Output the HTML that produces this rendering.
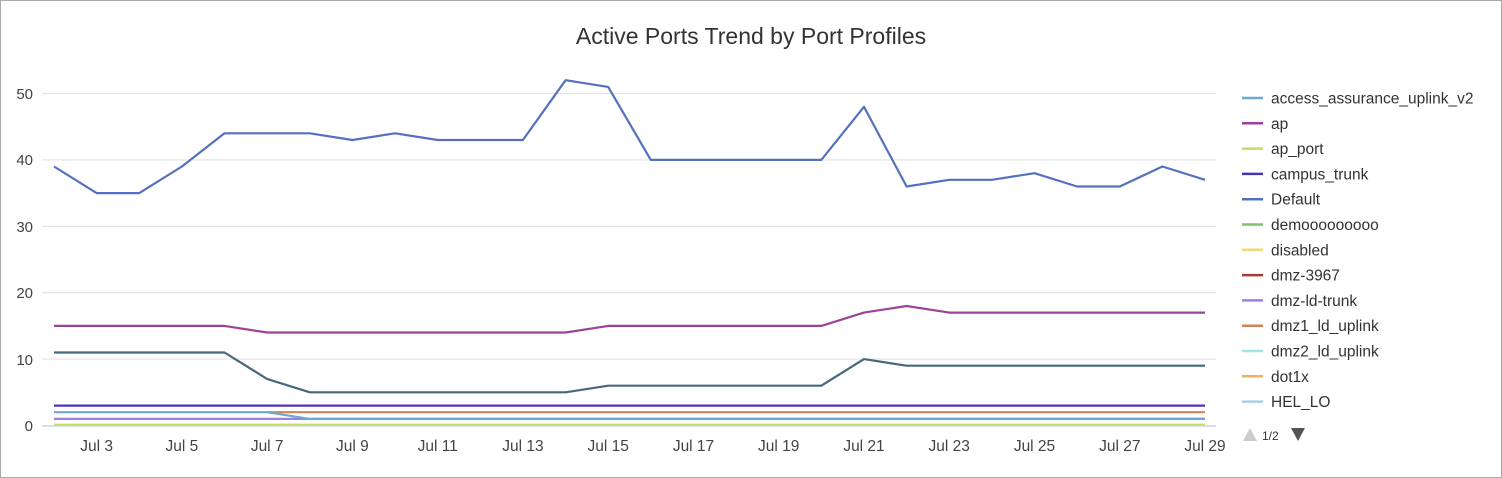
<!DOCTYPE html>
<html><head><meta charset="utf-8"><style>
html,body{margin:0;padding:0;background:#fff}
body{width:1502px;height:478px;overflow:hidden;font-family:"Liberation Sans",Arial,sans-serif}
.frame{position:absolute;left:0;top:0;width:1500px;height:476px;border:1px solid #a9a9a9}
</style></head><body>
<div class="frame"></div>
<svg width="1502" height="478" style="position:absolute;left:0;top:0" font-family="Liberation Sans, Arial, sans-serif">
<text x="751" y="44" text-anchor="middle" font-size="23" fill="#333">Active Ports Trend by Port Profiles</text>
<g stroke="#e6e6e6" stroke-width="1.3">
<line x1="42" x2="1216" y1="93.5" y2="93.5"/><line x1="42" x2="1216" y1="159.9" y2="159.9"/>
<line x1="42" x2="1216" y1="226.3" y2="226.3"/><line x1="42" x2="1216" y1="292.7" y2="292.7"/>
<line x1="42" x2="1216" y1="359.1" y2="359.1"/>
</g>
<line x1="42" x2="1216" y1="426" y2="426" stroke="#ccd3e6" stroke-width="1.5"/>
<g font-size="15" fill="#444" text-anchor="end">
<text x="33" y="99">50</text><text x="33" y="165">40</text><text x="33" y="232">30</text>
<text x="33" y="298">20</text><text x="33" y="365">10</text><text x="33" y="431">0</text>
</g>
<g font-size="15.5" fill="#444" text-anchor="middle">
<text x="96.6" y="451">Jul 3</text><text x="181.9" y="451">Jul 5</text><text x="267.2" y="451">Jul 7</text>
<text x="352.4" y="451">Jul 9</text><text x="437.7" y="451">Jul 11</text><text x="522.9" y="451">Jul 13</text>
<text x="608.2" y="451">Jul 15</text><text x="693.5" y="451">Jul 17</text><text x="778.7" y="451">Jul 19</text>
<text x="864" y="451">Jul 21</text><text x="949.2" y="451">Jul 23</text><text x="1034.5" y="451">Jul 25</text>
<text x="1119.8" y="451">Jul 27</text><text x="1205" y="451">Jul 29</text>
</g>
<g fill="none" stroke-width="2.2" stroke-linejoin="round">
<line x1="54" x2="1205" y1="424.5" y2="424.5" stroke="#c5dc6a" stroke-width="1.8"/>
<line x1="54" x2="1205" y1="418.9" y2="418.9" stroke="#9b7fe8"/>
<polyline stroke="#d1845a" points="267.2,412.2 1205,412.2"/>
<polyline stroke="#6ea8d0" points="54,412.2 267.2,412.2 309.8,418.9 1205,418.9"/>
<line x1="54" x2="1205" y1="405.6" y2="405.6" stroke="#4b30b8"/>
<polyline stroke="#45697a" points="54,352.5 224.5,352.5 267.2,379 309.8,392.3 565.6,392.3 608.2,385.7 821.3,385.7 864,359.1 906.6,365.7 1205,365.7"/>
<polyline stroke="#9b4399" points="54,325.9 224.5,325.9 267.2,332.5 565.6,332.5 608.2,325.9 821.3,325.9 864,312.6 906.6,306 949.2,312.6 1205,312.6"/>
<polyline stroke="#5471bf" points="54,166.5 96.6,193.1 139.3,193.1 181.9,166.5 224.5,133.3 267.2,133.3 309.8,133.3 352.4,140 395,133.3 437.7,140 480.3,140 522.9,140 565.6,80.2 608.2,86.9 650.8,159.9 693.5,159.9 736.1,159.9 778.7,159.9 821.3,159.9 864,106.8 906.6,186.5 949.2,179.8 991.9,179.8 1034.5,173.2 1077.1,186.5 1119.8,186.5 1162.4,166.5 1205,179.8"/>
</g>
<g font-size="15.5" fill="#333" stroke-width="2.5">
<line x1="1242" x2="1263" y1="98" y2="98" stroke="#6ea8d0"/><text x="1271" y="103.5">access_assurance_uplink_v2</text>
<line x1="1242" x2="1263" y1="123.3" y2="123.3" stroke="#9b4399"/><text x="1271" y="128.8">ap</text>
<line x1="1242" x2="1263" y1="148.6" y2="148.6" stroke="#c5dc6a"/><text x="1271" y="154.1">ap_port</text>
<line x1="1242" x2="1263" y1="173.9" y2="173.9" stroke="#4b30b8"/><text x="1271" y="179.4">campus_trunk</text>
<line x1="1242" x2="1263" y1="199.2" y2="199.2" stroke="#5471bf"/><text x="1271" y="204.7">Default</text>
<line x1="1242" x2="1263" y1="224.5" y2="224.5" stroke="#7cc46a"/><text x="1271" y="230">demooooooooo</text>
<line x1="1242" x2="1263" y1="249.8" y2="249.8" stroke="#f2d77a"/><text x="1271" y="255.3">disabled</text>
<line x1="1242" x2="1263" y1="275.1" y2="275.1" stroke="#a83a3a"/><text x="1271" y="280.6">dmz-3967</text>
<line x1="1242" x2="1263" y1="300.4" y2="300.4" stroke="#9b7fe8"/><text x="1271" y="305.9">dmz-ld-trunk</text>
<line x1="1242" x2="1263" y1="325.7" y2="325.7" stroke="#d1845a"/><text x="1271" y="331.2">dmz1_ld_uplink</text>
<line x1="1242" x2="1263" y1="351" y2="351" stroke="#9ee3e6"/><text x="1271" y="356.5">dmz2_ld_uplink</text>
<line x1="1242" x2="1263" y1="376.3" y2="376.3" stroke="#eeb058"/><text x="1271" y="381.8">dot1x</text>
<line x1="1242" x2="1263" y1="401.6" y2="401.6" stroke="#a8d0e6"/><text x="1271" y="407.1">HEL_LO</text>
</g>
<polygon points="1243,441 1250,428 1257,441" fill="#ccc"/>
<text x="1262" y="440" font-size="12" fill="#333">1/2</text>
<polygon points="1291,428 1305,428 1298,441" fill="#555"/>
</svg>
</body></html>
